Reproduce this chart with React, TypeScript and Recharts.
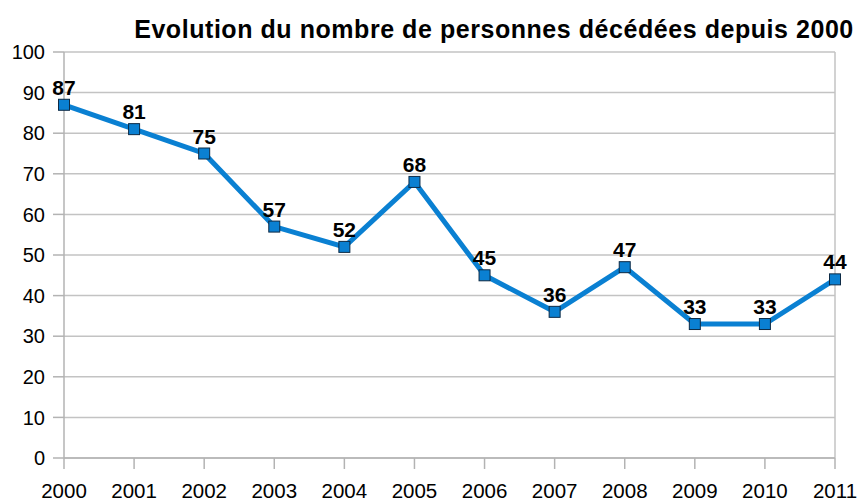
import { LineChart, Line, XAxis, YAxis, CartesianGrid, LabelList, ReferenceLine } from 'recharts';

const years = ['2000', '2001', '2002', '2003', '2004', '2005', '2006', '2007', '2008', '2009', '2010', '2011'];
const deaths = [87, 81, 75, 57, 52, 68, 45, 36, 47, 33, 33, 44];
const yTicks = [0, 10, 20, 30, 40, 50, 60, 70, 80, 90, 100];

const data = years.map((year, i) => ({ year, value: deaths[i] }));

const FONT = '"Liberation Sans", Arial, sans-serif';
const BLUE = '#0a80d2';
const GRID = '#c3c3c3';

// square marker like the spreadsheet export
const SquareDot = (props: any) => {
  const { cx, cy, index } = props;
  if (cx == null || cy == null) return null;
  return (
    <rect
      key={`dot-${index}`}
      x={cx - 5.5}
      y={cy - 5.5}
      width={11}
      height={11}
      fill={BLUE}
      stroke="#0d2a45"
      strokeWidth={1}
    />
  );
};

export default function App() {
  return (
    <div style={{ position: 'absolute', left: 0, top: 0, width: 861, height: 503, background: '#fff', fontFamily: FONT }}>
      <div
        style={{
          position: 'absolute',
          top: 14,
          left: 133,
          width: 722,
          textAlign: 'center',
          fontSize: 25,
          letterSpacing: 0.55,
          fontWeight: 'bold',
          color: '#000',
          whiteSpace: 'nowrap',
          lineHeight: '30px',
        }}
      >
        Evolution du nombre de personnes décédées depuis 2000
      </div>
      <LineChart width={861} height={503} data={data} margin={{ top: 52, right: 26, left: 0, bottom: 0 }}>
        <CartesianGrid vertical={false} stroke={GRID} strokeWidth={1.5} />
        <ReferenceLine x="2011" stroke={GRID} strokeWidth={1.5} />
        <XAxis
          dataKey="year"
          interval={0}
          height={45}
          tickSize={11}
          tickMargin={14}
          stroke="#b3b3b3"
          strokeWidth={1.5}
          tick={{ fill: '#000', fontSize: 20.5, fontFamily: FONT }}
        />
        <YAxis
          domain={[0, 100]}
          ticks={yTicks}
          width={64}
          tickSize={11}
          tickMargin={8}
          stroke="#b3b3b3"
          strokeWidth={1.5}
          tick={{ fill: '#000', fontSize: 20, fontFamily: FONT }}
        />
        <Line
          type="linear"
          dataKey="value"
          stroke={BLUE}
          strokeWidth={5}
          dot={<SquareDot />}
          activeDot={false}
          isAnimationActive={false}
        >
          <LabelList
            dataKey="value"
            position="top"
            offset={10}
            style={{ fill: '#000', fontSize: 21, fontWeight: 'bold', fontFamily: FONT }}
          />
        </Line>
      </LineChart>
    </div>
  );
}
